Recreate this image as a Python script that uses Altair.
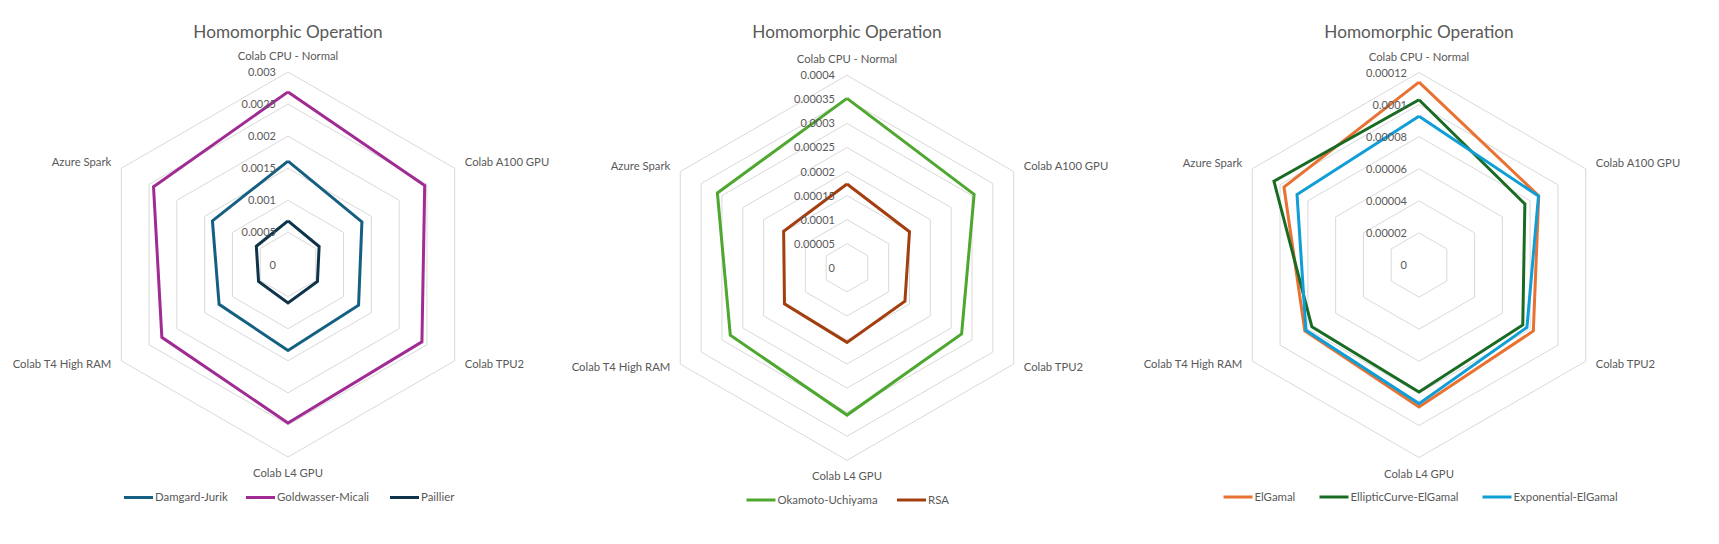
import math
import altair as alt
import pandas as pd

# ---------------- data ----------------
CATEGORIES = ["Colab CPU - Normal", "Colab A100 GPU", "Colab TPU2",
              "Colab L4 GPU", "Colab T4 High RAM", "Azure Spark"]
TITLE = "Homomorphic Operation"

# panel 1
P1_TICKS = [0, 0.0005, 0.001, 0.0015, 0.002, 0.0025, 0.003]
P1_TICK_LABELS = ["0", "0.0005", "0.001", "0.0015", "0.002", "0.0025", "0.003"]
DAMGARD_JURIK = [0.00161, 0.00133, 0.00127, 0.00134, 0.00124, 0.00136]
GOLDWASSER_MICALI = [0.00269, 0.00246, 0.00241, 0.00247, 0.00227, 0.00242]
PAILLIER = [0.00068, 0.00056, 0.00053, 0.00060, 0.00053, 0.00057]

# panel 2
P2_TICKS = [0, 0.00005, 0.0001, 0.00015, 0.0002, 0.00025, 0.0003, 0.00035, 0.0004]
P2_TICK_LABELS = ["0", "0.00005", "0.0001", "0.00015", "0.0002", "0.00025",
                  "0.0003", "0.00035", "0.0004"]
OKAMOTO_UCHIYAMA = [0.000352, 0.000305, 0.000275, 0.000306, 0.000280, 0.000311]
RSA = [0.000174, 0.000150, 0.000139, 0.000155, 0.000150, 0.000152]

# panel 3
P3_TICKS = [0, 0.00002, 0.00004, 0.00006, 0.00008, 0.0001, 0.00012]
P3_TICK_LABELS = ["0", "0.00002", "0.00004", "0.00006", "0.00008", "0.0001", "0.00012"]
ELGAMAL = [0.000114, 0.0000862, 0.0000823, 0.0000885, 0.0000822, 0.0000972]
EC_ELGAMAL = [0.000103, 0.0000762, 0.0000747, 0.0000792, 0.0000771, 0.0001044]
EXP_ELGAMAL = [0.0000927, 0.0000860, 0.0000777, 0.0000864, 0.0000814, 0.0000878]

SERIES_NAMES = ["Damgard-Jurik", "Goldwasser-Micali", "Paillier",
                "Okamoto-Uchiyama", "RSA",
                "ElGamal", "EllipticCurve-ElGamal", "Exponential-ElGamal"]
SERIES_COLORS = ["#156082", "#A02B93", "#0F3449",
                 "#4EA72E", "#A33E0E",
                 "#E97132", "#196B24", "#0F9ED5"]

# ---------------- layout (page pixels) ----------------
W, H = 1703, 528
R = 192.5
FONT = "Lato"
GRAY = "#595959"
PANELS = [
    dict(cx=288, cy=264.5, ticks=P1_TICKS, labels=P1_TICK_LABELS,
         series=[("Damgard-Jurik", DAMGARD_JURIK),
                 ("Goldwasser-Micali", GOLDWASSER_MICALI),
                 ("Paillier", PAILLIER)],
         legend_x=[124, 246, 390], legend_y=497.5),
    dict(cx=847, cy=267.8, ticks=P2_TICKS, labels=P2_TICK_LABELS,
         series=[("Okamoto-Uchiyama", OKAMOTO_UCHIYAMA), ("RSA", RSA)],
         legend_x=[746.5, 897], legend_y=500),
    dict(cx=1419, cy=265, ticks=P3_TICKS, labels=P3_TICK_LABELS,
         series=[("ElGamal", ELGAMAL),
                 ("EllipticCurve-ElGamal", EC_ELGAMAL),
                 ("Exponential-ElGamal", EXP_ELGAMAL)],
         legend_x=[1223.5, 1319.5, 1482.5], legend_y=497),
]
LEG_LEN = 29


def polar(cx, cy, r, i):
    a = math.radians(60 * i)
    return cx + r * math.sin(a), cy - r * math.cos(a)


grid_rows, line_rows, tick_rows, cat_rows, title_rows = [], [], [], [], []
leg_line_rows, leg_text_rows = [], []
for p_i, p in enumerate(PANELS):
    cx, cy, vmax = p["cx"], p["cy"], max(p["ticks"])
    title_rows.append(dict(x=cx, y=32.5, text=TITLE))
    for k, (t, lab) in enumerate(zip(p["ticks"], p["labels"])):
        r = R * t / vmax
        tick_rows.append(dict(x=cx - 12, y=cy - r + 1, text=lab))
        if t > 0:
            for i in range(7):
                x, y = polar(cx, cy, r, i % 6)
                grid_rows.append(dict(ring=f"{p_i}-{k}", idx=i, x=x, y=y))
    for s_name, vals in p["series"]:
        for i in range(7):
            r = R * vals[i % 6] / vmax
            x, y = polar(cx, cy, r, i % 6)
            line_rows.append(dict(series=s_name, idx=i, x=x, y=y))
    for i, c in enumerate(CATEGORIES):
        x, y = polar(cx, cy, R, i)
        if i == 0:
            cat_rows.append(dict(x=x, y=y - 15, text=c, align="center"))
        elif i == 3:
            cat_rows.append(dict(x=x, y=y + 17, text=c, align="center"))
        elif i in (1, 2):
            cat_rows.append(dict(x=x + 10, y=y + (-5 if i == 1 else 4), text=c, align="left"))
        else:
            cat_rows.append(dict(x=x - 10, y=y + (-5 if i == 5 else 4), text=c, align="right"))
    for (s_name, _), lx in zip(p["series"], p["legend_x"]):
        leg_line_rows.append(dict(series=s_name, x=lx, x2=lx + LEG_LEN, y=p["legend_y"]))
        leg_text_rows.append(dict(x=lx + LEG_LEN + 2, y=p["legend_y"] + 0.5, text=s_name))

grid_df = pd.DataFrame(grid_rows)
line_df = pd.DataFrame(line_rows)
tick_df = pd.DataFrame(tick_rows)
cat_df = pd.DataFrame(cat_rows)
title_df = pd.DataFrame(title_rows)
leg_line_df = pd.DataFrame(leg_line_rows)
leg_text_df = pd.DataFrame(leg_text_rows)

xs = alt.Scale(domain=[8, 8 + W], nice=False, zero=False)
ys = alt.Scale(domain=[8 + H, 8], nice=False, zero=False)
X = lambda f="x": alt.X(f"{f}:Q", scale=xs, axis=None)
Y = lambda f="y": alt.Y(f"{f}:Q", scale=ys, axis=None)
color = alt.Color("series:N", scale=alt.Scale(domain=SERIES_NAMES, range=SERIES_COLORS),
                  legend=None)

grid = alt.Chart(grid_df).mark_line(stroke="#D9D9D9", strokeWidth=1).encode(
    x=X(), y=Y(), detail="ring:N", order="idx:Q")

lines = alt.Chart(line_df).mark_line(strokeWidth=3, strokeJoin="miter").encode(
    x=X(), y=Y(), color=color, detail="series:N", order="idx:Q")

ticks = alt.Chart(tick_df).mark_text(align="right", baseline="middle", font=FONT,
                                     fontSize=11, color=GRAY).encode(
    x=X(), y=Y(), text="text:N")

cat_layers = []
for al in ["center", "left", "right"]:
    cat_layers.append(alt.Chart(cat_df[cat_df["align"] == al]).mark_text(
        align=al, baseline="middle", font=FONT, fontSize=11.3, color=GRAY).encode(
        x=X(), y=Y(), text="text:N"))

titles = alt.Chart(title_df).mark_text(align="center", baseline="middle", font=FONT,
                                       fontSize=17.2, color=GRAY).encode(
    x=X(), y=Y(), text="text:N")

leg_lines = alt.Chart(leg_line_df).mark_rule(strokeWidth=3).encode(
    x=X(), x2="x2:Q", y=Y(), color=color)

leg_text = alt.Chart(leg_text_df).mark_text(align="left", baseline="middle", font=FONT,
                                            fontSize=11.4, color=GRAY).encode(
    x=X(), y=Y(), text="text:N")

chart = alt.layer(grid, lines, ticks, *cat_layers, titles, leg_lines, leg_text).properties(
    width=W, height=H, autosize=alt.AutoSizeParams(type="none"), padding=0,
    background="white"
).configure_view(strokeWidth=0, stroke="transparent")

chart.save("out.html", embed_options={"renderer": "svg", "actions": False})
